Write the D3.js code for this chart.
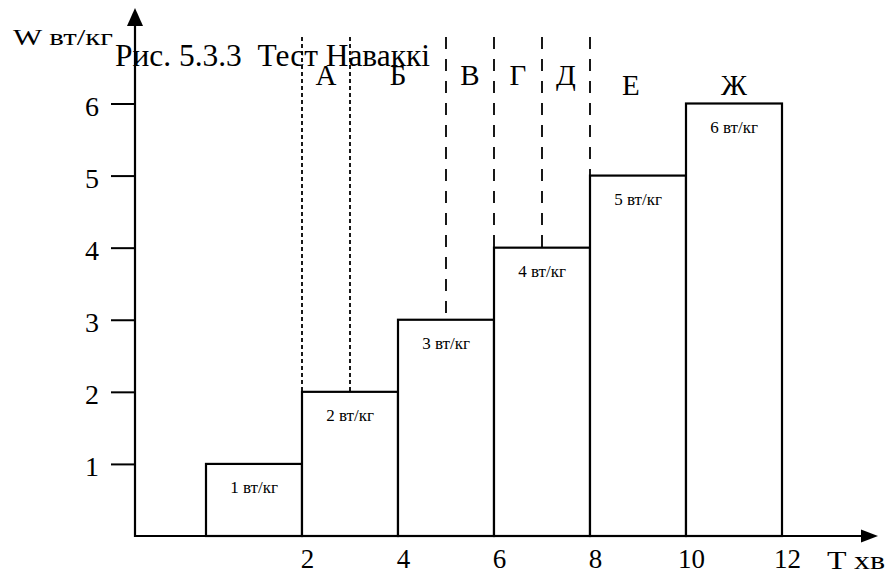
<!DOCTYPE html>
<html><head><meta charset="utf-8">
<script src="https://cdn.jsdelivr.net/npm/d3@7/dist/d3.min.js"></script>
<style>
body{margin:0;background:#fff}
svg{display:block}
text{font-family:"Liberation Serif","Times New Roman",serif;fill:#000}
</style>
</head><body>
<svg id="c" width="889" height="576"></svg>
<script>
// ---- data ----
const barStart = [0, 2, 4, 6, 8, 10];
const barEnd = [2, 4, 6, 8, 10, 12];
const barValues = [1, 2, 3, 4, 5, 6];
const barLabels = ["1 вт/кг", "2 вт/кг", "3 вт/кг", "4 вт/кг", "5 вт/кг", "6 вт/кг"];
const yTicks = [1, 2, 3, 4, 5, 6];
const xTicks = [2, 4, 6, 8, 10, 12];
const dottedAt = [2, 3];
const dottedTo = [2, 2];
const dashedAt = [5, 6, 7, 8];
const dashedTo = [3, 4, 4, 5];
const zoneLabels = ["А", "Б", "В", "Г", "Д", "Е", "Ж"];
const zonePos = [2.5, 4, 5.5, 6.5, 7.5, 8.85, 11];
const title = "Рис. 5.3.3  Тест Наваккі";
const yTitle = "W вт/кг";
const xTitle = "T хв";

// ---- scales ----
const svg = d3.select("#c");
const x = d3.scaleLinear().domain([0, 12]).range([206, 782]);
const y = d3.scaleLinear().domain([0, 6]).range([536, 103.5]);
const ax0 = 135, ay0 = 536;

// bars
svg.append("g").selectAll("rect").data(barValues).join("rect")
  .attr("x", (d, i) => x(barStart[i]))
  .attr("y", d => y(d))
  .attr("width", (d, i) => x(barEnd[i]) - x(barStart[i]))
  .attr("height", d => y(0) - y(d))
  .attr("fill", "#fff").attr("stroke", "#000").attr("stroke-width", 2.2);

// bar labels
svg.append("g").selectAll("text").data(barLabels).join("text")
  .attr("x", (d, i) => (x(barStart[i]) + x(barEnd[i])) / 2)
  .attr("y", (d, i) => y(barValues[i]) + 29)
  .attr("text-anchor", "middle").attr("font-size", 17)
  .text(d => d);

// dotted lines
const lineTop = 37;
svg.append("g").selectAll("line").data(dottedAt).join("line")
  .attr("x1", d => x(d)).attr("x2", d => x(d))
  .attr("y1", lineTop).attr("y2", (d, i) => y(dottedTo[i]))
  .attr("stroke", "#000").attr("stroke-width", 1.8).attr("stroke-dasharray", "4,3");
svg.append("g").selectAll("line").data(dashedAt).join("line")
  .attr("x1", d => x(d)).attr("x2", d => x(d))
  .attr("y1", lineTop).attr("y2", (d, i) => y(dashedTo[i]))
  .attr("stroke", "#000").attr("stroke-width", 1.8).attr("stroke-dasharray", "12,10");

// zone letters
svg.append("g").selectAll("text").data(zoneLabels).join("text")
  .attr("x", (d, i) => x(zonePos[i]))
  .attr("y", (d, i) => i < 5 ? 85 : 95)
  .attr("text-anchor", "middle").attr("font-size", 29)
  .text(d => d);

// axes lines with arrows
svg.append("line").attr("x1", ax0).attr("x2", ax0).attr("y1", ay0 + 1).attr("y2", 22)
  .attr("stroke", "#000").attr("stroke-width", 2.2);
svg.append("path").attr("d", `M${ax0},8 L${ax0 - 8},26 L${ax0 + 8},26 Z`).attr("fill", "#000");
svg.append("line").attr("x1", ax0).attr("x2", 866).attr("y1", ay0).attr("y2", ay0)
  .attr("stroke", "#000").attr("stroke-width", 2.2);
svg.append("path").attr("d", `M878,${ay0} L861,${ay0 - 6.5} L861,${ay0 + 6.5} Z`).attr("fill", "#000");

// y axis ticks
const gy = svg.append("g").attr("transform", `translate(${ax0},0)`)
  .call(d3.axisLeft(y).tickValues(yTicks).tickSize(24).tickPadding(12).tickFormat(d3.format("d")));
gy.select(".domain").remove();
gy.selectAll("line").attr("stroke", "#000").attr("stroke-width", 2);
gy.selectAll("text").attr("font-size", 28).attr("font-family", "Liberation Serif").attr("dy", "0.42em").attr("fill", "#000");

// x axis labels
const gx = svg.append("g").attr("transform", `translate(0,${ay0})`)
  .call(d3.axisBottom(x).tickValues(xTicks).tickSize(0).tickPadding(13).tickFormat(d3.format("d")));
gx.select(".domain").remove();
gx.selectAll("text").attr("font-size", 27).attr("font-family", "Liberation Serif").attr("dx", 5).attr("fill", "#000");

// titles
svg.append("text").attr("x", 115).attr("y", 66).attr("font-size", 31)
  .attr("xml:space", "preserve").style("white-space", "pre")
  .attr("textLength", 315).attr("lengthAdjust", "spacingAndGlyphs").text(title);
svg.append("text").attr("x", 13).attr("y", 45).attr("font-size", 24)
  .style("white-space", "pre")
  .attr("textLength", 100).attr("lengthAdjust", "spacingAndGlyphs").text(yTitle);
svg.append("text").attr("x", 827).attr("y", 569).attr("font-size", 26)
  .style("white-space", "pre")
  .attr("textLength", 58).attr("lengthAdjust", "spacingAndGlyphs").text(xTitle);
</script>
</body></html>
